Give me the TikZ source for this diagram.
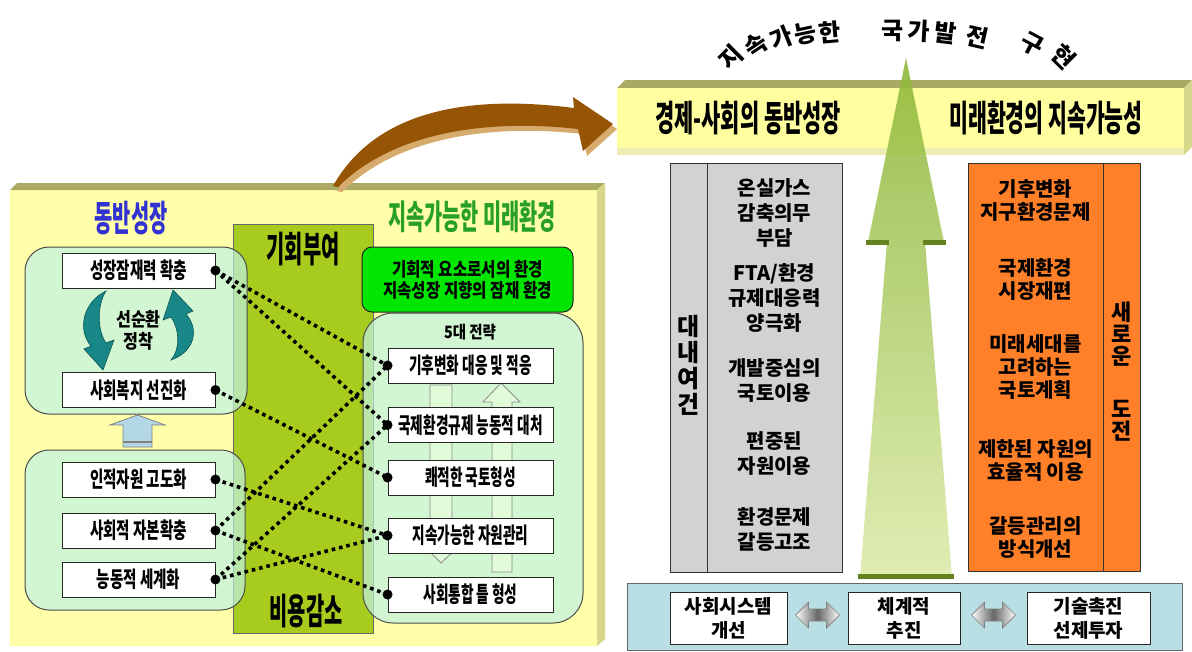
\documentclass[tikz,border=0pt]{standalone}
\usepackage{fontspec}
\setmainfont{Noto Sans CJK KR}
\usepackage{graphicx}
\usetikzlibrary{calc}

\definecolor{bgyel}{RGB}{255,255,170}
\definecolor{olive1}{RGB}{170,170,100}
\definecolor{olive2}{RGB}{215,215,140}
\definecolor{colgreen}{RGB}{168,204,30}
\definecolor{mint}{RGB}{191,241,227}
\definecolor{brgreen}{RGB}{0,230,0}
\definecolor{titleblue}{RGB}{50,50,210}
\definecolor{titlegreen}{RGB}{40,160,40}
\definecolor{teal1}{RGB}{25,135,135}
\definecolor{teal2}{RGB}{10,85,85}
\definecolor{lblue}{RGB}{180,215,230}
\definecolor{palegreen}{RGB}{225,250,215}
\definecolor{brown1}{RGB}{150,85,5}
\definecolor{tan1}{RGB}{215,170,110}
\definecolor{grayfill}{RGB}{210,210,210}
\definecolor{orng}{RGB}{255,128,40}
\definecolor{botblue}{RGB}{185,222,228}
\definecolor{arrowdark}{RGB}{100,130,30}
\definecolor{arrowtop}{RGB}{140,182,55}
\definecolor{arrowbot}{RGB}{220,235,170}
\definecolor{banyel}{RGB}{255,255,160}
\definecolor{banlow}{RGB}{238,238,180}

\newcommand\cnd[2]{\scalebox{#1}[1]{#2}}
\newcommand\fsz[2]{\fontsize{#1}{#2}\selectfont}

\begin{document}
\begin{tikzpicture}[x=1pt,y=-1pt,
 lbox/.style={draw=black!85, line width=0.9pt, fill=white, minimum width=153pt, minimum height=35pt, inner sep=0pt, font=\bfseries\fsz{22}{22}},
 rbox/.style={lbox, minimum width=165pt},
 rndbox/.style={draw=black!70, line width=1pt, fill=mint, fill opacity=0.7, rounded corners=24pt},
 conn/.style={line width=3.6pt, dash pattern=on 3.6pt off 3.9pt, black},
 gitem/.style={align=center, font=\bfseries\fsz{20}{25}, inner sep=0pt},
 oitem/.style={align=center, font=\bfseries\fsz{20}{23}, inner sep=0pt},
 bbox/.style={draw=black!85, line width=0.9pt, fill=white, minimum height=52pt, align=center, inner sep=0pt, font=\bfseries\fsz{19}{24}},
 dblarr/.style={draw=black!50, line width=0.7pt, left color=white, right color=white, middle color=black!60},
 arcch/.style={font=\bfseries\fsz{24}{24}, inner sep=0pt}
]
\useasboundingbox (0,0) rectangle (1192,651);
\fill[white] (0,0) rectangle (1192,651);

% ---------- left panel ----------
\fill[bgyel] (10,190) rectangle (597,646);
\fill[olive1] (10,190) -- (17,183) -- (605,183) -- (597,190) -- cycle;
\fill[olive2] (597,190) -- (605,183) -- (605,639) -- (597,646) -- cycle;

\draw[fill=colgreen, draw=black!60, line width=0.8pt] (233,224) rectangle (373,633);

\draw[rndbox] (25,247) rectangle (247,414);
\draw[rndbox] (25,450) rectangle (245,610);
\draw[rndbox, rounded corners=30pt] (363,313) rectangle (583,623);

\node[draw=black!85, line width=1pt, fill=brgreen, rounded corners=10pt, minimum width=211pt, minimum height=65pt, align=center, inner sep=0pt, font=\bfseries\fsz{19}{21}] (gbx) at (467.5,279.5) {\cnd{0.82}{기회적 요소로서의 환경}\\\cnd{0.82}{지속성장 지향의 잠재 환경}};

% titles
\node[font=\bfseries\fsz{36}{36}, text=titleblue] (tL) at (131,218) {\cnd{0.55}{동반성장}};
\node[font=\bfseries\fsz{34}{34}, text=titlegreen] (tR) at (472,217) {\cnd{0.58}{지속가능한 미래환경}};

\node[font=\bfseries\fsz{36}{36}] (kihoe) at (303,249) {\cnd{0.55}{기회부여}};
\node[font=\bfseries\fsz{36}{36}] (biyong) at (306,611) {\cnd{0.55}{비용감소}};

% cycle arrows
\draw[fill=teal1, draw=teal2, line width=0.6pt] (106,291) .. controls (83,302) and (77,330) .. (91,346) -- (84,349) -- (103,370) -- (114,340) -- (106,343) .. controls (97,330) and (97,305) .. (106,291) -- cycle;
\draw[fill=teal1, draw=teal2, line width=0.6pt] (171,360) .. controls (194,352) and (200,330) .. (186,314) -- (193,311) -- (173,290) -- (163,320) -- (171,317) .. controls (180,330) and (180,350) .. (171,360) -- cycle;
\node[font=\bfseries\fsz{19}{22}, align=center] (cyc) at (138.5,330) {\cnd{0.85}{선순환}\\\cnd{0.85}{정착}};

% light blue up arrow
\draw[fill=lblue, draw=black!50, line width=0.8pt] (123,447) -- (123,425) -- (110,425) -- (137.5,415) -- (165,425) -- (152,425) -- (152,447) -- cycle;
\draw[black!50, line width=1.5pt] (123,442) -- (152,442);

% hollow arrows in strategy box
\draw[fill=palegreen, draw=black!45, line width=0.8pt] (430,385) -- (452,385) -- (452,545) -- (460,545) -- (441,563) -- (423,545) -- (430,545) -- cycle;
\draw[fill=palegreen, draw=black!45, line width=0.8pt] (492,572) -- (512,572) -- (512,402) -- (520,402) -- (501,383) -- (483,402) -- (492,402) -- cycle;

\node[font=\bfseries\fsz{17}{17}] (five) at (470,332) {\cnd{0.85}{5대 전략}};

% boxes
\node[lbox] (L1) at (138.5,270.5) {\cnd{0.66}{성장잠재력 확충}};
\node[lbox] (L2) at (138.5,390) {\cnd{0.66}{사회복지 선진화}};
\node[lbox] (L3) at (138.5,479.5) {\cnd{0.66}{인적자원 고도화}};
\node[lbox] (L4) at (138.5,530.5) {\cnd{0.66}{사회적 자본확충}};
\node[lbox] (L5) at (138.5,579.5) {\cnd{0.66}{능동적 세계화}};

\node[rbox] (R1) at (470.5,365.5) {\cnd{0.62}{기후변화 대응 및 적응}};
\node[rbox] (R2) at (470.5,425) {\cnd{0.62}{국제환경규제 능동적 대처}};
\node[rbox] (R3) at (470.5,477.5) {\cnd{0.62}{쾌적한 국토형성}};
\node[rbox] (R4) at (470.5,535.5) {\cnd{0.62}{지속가능한 자원관리}};
\node[rbox] (R5) at (470.5,594.5) {\cnd{0.62}{사회통합 틀 형성}};

% connectors
\foreach \a/\b in {L1/R1, L1/R2, L2/R3, L3/R4, L4/R1, L4/R5, L5/R2, L5/R4}
  \draw[conn] (\a.east) -- (\b.west);
\foreach \a in {L1,L2,L3,L4,L5} \fill (\a.east) circle (5pt);
\foreach \b in {R1,R2,R3,R4,R5} \fill (\b.west) circle (5pt);

% brown curved arrow
\fill[tan1] ($(333,186)+(4,5)$) .. controls ($(370,120)+(4,5)$) and ($(450,92)+(4,5)$) .. ($(574,108)+(4,5)$) -- ($(573,97)+(4,5)$) -- ($(613,124)+(4,5)$) -- ($(583,151)+(4,5)$) -- ($(578,129)+(4,5)$) .. controls ($(480,118)+(4,5)$) and ($(390,135)+(4,5)$) .. ($(338,187)+(4,5)$) -- cycle;
\fill[brown1] (333,186) .. controls (370,120) and (450,92) .. (574,108) -- (573,97) -- (613,124) -- (583,151) -- (578,129) .. controls (480,118) and (390,135) .. (338,187) -- cycle;

% ---------- right part ----------
\fill[olive1] (617,88) -- (625,80) -- (1192,80) -- (1184,88) -- cycle;
\fill[banyel] (617,88) rectangle (1184,148);
\fill[banlow] (617,148) rectangle (1184,155);
\fill[olive2] (1184,88) -- (1192,80) -- (1192,147) -- (1184,155) -- cycle;

\node[font=\bfseries\fsz{36}{36}] (ban1) at (748,118) {\cnd{0.58}{경제-사회의 동반성장}};
\node[font=\bfseries\fsz{36}{36}] (ban2) at (1046,118) {\cnd{0.57}{미래환경의 지속가능성}};

% big arrow
\shade[top color=arrowtop, bottom color=arrowbot, opacity=0.88] (906,58) -- (944,242) -- (925,242) -- (952,577) -- (860,577) -- (887,242) -- (868,242) -- cycle;
\fill[arrowdark] (866,240) rectangle (889,245);
\fill[arrowdark] (923,240) rectangle (946,245);
\fill[arrowdark] (858,574) rectangle (954,579);

% arc title
\foreach \ch/\x/\y/\r [count=\i] in {지/731/57/45, 속/756/45/34, 가/781/38/22, 능/805/34/12, 한/830/32/5, 국/893/31/0, 가/919/31/-3, 발/946/33/-7, 전/977/37/-13, 구/1032/44/-28, 현/1064/57/-45}
  \node[arcch, rotate=\r] (arc\i) at (\x,\y) {\ch};

% gray box
\draw[fill=grayfill, draw=black!80, line width=1pt] (670,163) rectangle (842,572);
\draw[black!80, line width=1pt] (707,163) -- (707,572);
\node[align=center, font=\bfseries\fsz{24}{26}, inner sep=0pt] (dn) at (688.5,365) {대\\내\\여\\건};
\node[gitem] (g1) at (774.5,213) {온실가스\\감축의무\\부담};
\node[gitem] (g2) at (774.5,298) {FTA/환경\\규제대응력\\양극화};
\node[gitem] (g3) at (774.5,381) {개발중심의\\국토이용};
\node[gitem] (g4) at (774.5,454) {편중된\\자원이용};
\node[gitem] (g5) at (774.5,529) {환경문제\\갈등고조};

% orange box
\draw[fill=orng, draw=black!80, line width=1pt] (968,163) rectangle (1140,571);
\draw[black!80, line width=1pt] (1103,163) -- (1103,571);
\node[align=center, font=\bfseries\fsz{22}{22}, inner sep=0pt] (nc) at (1121.5,372) {새\\로\\운\\[31pt]도\\전};
\node[oitem] (o1) at (1035.5,201) {기후변화\\지구환경문제};
\node[oitem] (o2) at (1035.5,279) {국제환경\\시장재편};
\node[oitem] (o3) at (1035.5,367) {미래세대를\\고려하는\\국토계획};
\node[oitem] (o4) at (1035.5,461) {제한된 자원의\\효율적 이용};
\node[oitem] (o5) at (1035.5,538) {갈등관리의\\방식개선};

% bottom blue box
\draw[fill=botblue, draw=black!60, line width=1pt] (627,583) rectangle (1182,650);
\node[bbox, minimum width=117pt] (B1) at (728.5,618) {사회시스템\\개선};
\node[bbox, minimum width=112pt] (B2) at (904,618) {체계적\\추진};
\node[bbox, minimum width=123pt] (B3) at (1088.5,618) {기술촉진\\선제투자};
\coordinate (m1) at ($(B1.east)!0.5!(B2.west)+(0,-3)$);
\coordinate (m2) at ($(B2.east)!0.5!(B3.west)+(0,-3)$);
\foreach \m in {m1,m2}
  \shade[dblarr] ($(\m)+(-22,0)$) -- ++(13,-13) -- ++(0,7) -- ++(18,0) -- ++(0,-7) -- ++(13,13) -- ++(-13,13) -- ++(0,-7) -- ++(-18,0) -- ++(0,7) -- cycle;
\end{tikzpicture}
\end{document}
